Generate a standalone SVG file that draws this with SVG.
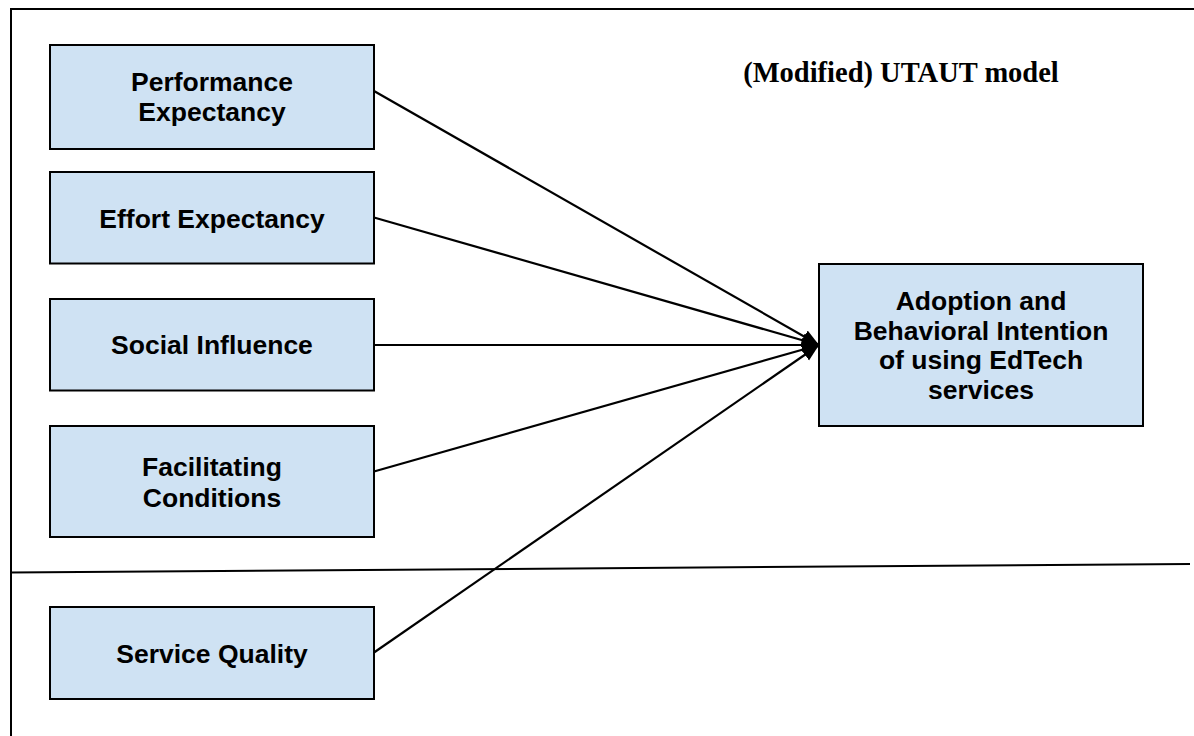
<svg xmlns="http://www.w3.org/2000/svg" width="1194" height="736" viewBox="0 0 1194 736">
<style>
.box{fill:#cfe2f3;stroke:#000;stroke-width:2}
.lbl{font-family:"Liberation Sans",Arial,sans-serif;font-weight:bold;font-size:26.5px;fill:#000;text-anchor:middle}
.title{font-family:"Liberation Serif","Times New Roman",serif;font-weight:bold;font-size:28.5px;fill:#000;text-anchor:middle}
.conn{stroke:#000;stroke-width:2.2;fill:none}
.frame{stroke:#000;stroke-width:2;fill:none}
</style>
<defs>
<marker id="arr" markerUnits="userSpaceOnUse" markerWidth="18" markerHeight="16" refX="17" refY="8" orient="auto">
<path d="M0,1 L17,8 L0,15 z" fill="#000"/>
</marker>
</defs>
<rect width="1194" height="736" fill="#fff"/>
<g id="frame">
<line class="frame" x1="10" y1="9" x2="1194" y2="9"/>
<line class="frame" x1="11" y1="9" x2="11" y2="736"/>
<line class="frame" x1="10" y1="572.5" x2="1190" y2="564"/>
</g>
<text id="title" class="title" x="901" y="82">(Modified) UTAUT model</text>
<g id="connectors">
<line class="conn" x1="374" y1="91" x2="819" y2="345" marker-end="url(#arr)"/>
<line class="conn" x1="374" y1="217.5" x2="819" y2="345" marker-end="url(#arr)"/>
<line class="conn" x1="374" y1="345" x2="819" y2="345" marker-end="url(#arr)"/>
<line class="conn" x1="374" y1="471.5" x2="819" y2="345" marker-end="url(#arr)"/>
<line class="conn" x1="374" y1="652.5" x2="819" y2="345" marker-end="url(#arr)"/>
</g>
<g id="performance-expectancy">
<rect class="box" x="50" y="45" width="324" height="104"/>
<text class="lbl" x="212" y="91">Performance</text>
<text class="lbl" x="212" y="120.5">Expectancy</text>
</g>
<g id="effort-expectancy">
<rect class="box" x="50" y="172" width="324" height="91.5"/>
<text class="lbl" x="212" y="227.5">Effort Expectancy</text>
</g>
<g id="social-influence">
<rect class="box" x="50" y="299" width="324" height="91.5"/>
<text class="lbl" x="212" y="354">Social Influence</text>
</g>
<g id="facilitating-conditions">
<rect class="box" x="50" y="426" width="324" height="111"/>
<text class="lbl" x="212" y="476">Facilitating</text>
<text class="lbl" x="212" y="506.5">Conditions</text>
</g>
<g id="service-quality">
<rect class="box" x="50" y="607" width="324" height="92"/>
<text class="lbl" x="212" y="663">Service Quality</text>
</g>
<g id="adoption">
<rect class="box" x="819" y="264" width="324" height="162"/>
<text class="lbl" x="981" y="309.5">Adoption and</text>
<text class="lbl" x="981" y="339.5">Behavioral Intention</text>
<text class="lbl" x="981" y="369">of using EdTech</text>
<text class="lbl" x="981" y="398.5">services</text>
</g>
</svg>
